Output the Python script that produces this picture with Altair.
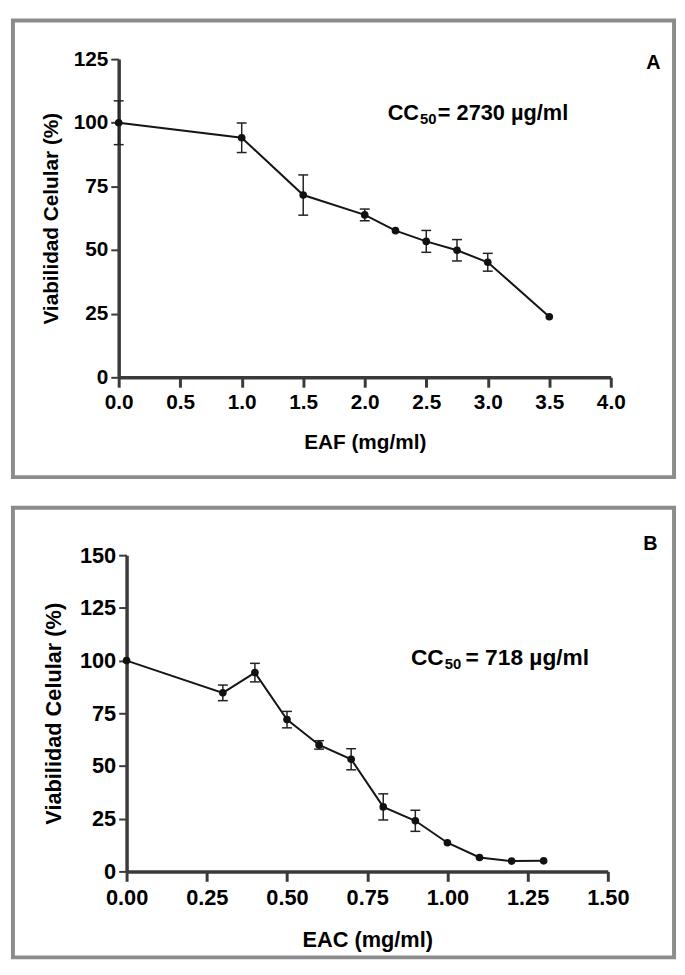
import altair as alt
import pandas as pd

# ---------------- data ----------------
A_dose = [0.0, 1.0, 1.5, 2.0, 2.25, 2.5, 2.75, 3.0, 3.5]
A_viab = [100.0, 94.1, 71.6, 63.8, 57.6, 53.4, 49.9, 45.2, 23.8]
A_err = [8.6, 5.8, 7.9, 2.3, 0.0, 4.3, 4.2, 3.5, 0.0]

B_dose = [0.0, 0.3, 0.4, 0.5, 0.6, 0.7, 0.8, 0.9, 1.0, 1.1, 1.2, 1.3]
B_viab = [100.0, 84.7, 94.3, 72.0, 60.0, 53.2, 30.6, 24.0, 13.6, 6.6, 4.9, 5.0]
B_err = [0.0, 3.7, 4.4, 3.9, 2.0, 5.0, 6.2, 5.0, 0.0, 0.0, 0.0, 0.0]

A_xticks = [0.0, 0.5, 1.0, 1.5, 2.0, 2.5, 3.0, 3.5, 4.0]
A_yticks = [0, 25, 50, 75, 100, 125]
B_xticks = [0.0, 0.25, 0.5, 0.75, 1.0, 1.25, 1.5]
B_yticks = [0, 25, 50, 75, 100, 125, 150]

A_xtitle = "EAF (mg/ml)"
B_xtitle = "EAC (mg/ml)"
Y_title = "Viabilidad Celular (%)"
A_letter = "A"
B_letter = "B"
A_cc = "= 2730 µg/ml"
B_cc = "= 718 µg/ml"

FONT = "Liberation Sans"
AXC = "#3a3a3a"
BORDER = "#8c8c8c"


def panel(dose, viab, err, xticks, yticks, xmax, ymax, w, h, xrange, yoffset,
          xfmt, xtitle, letter, cc_text, fs, ypad, xlabpad, xtitlepad,
          border, letter_pos, cc_pos):
    df = pd.DataFrame({"dose": dose, "viab": viab, "err": err})
    df["lo"] = df["viab"] - df["err"]
    df["hi"] = df["viab"] + df["err"]
    eb = df[df["err"] > 0]
    caps = pd.DataFrame({
        "dose": list(eb["dose"]) * 2,
        "viab": list(eb["lo"]) + list(eb["hi"]),
    })

    xscale = alt.Scale(domain=[0, xmax], nice=False, zero=False, **({"range": xrange} if xrange else {}))
    yscale = alt.Scale(domain=[0, ymax], nice=False)
    xaxis = alt.Axis(values=xticks, format=xfmt, title=xtitle, grid=False,
                     domainColor=AXC, domainWidth=3.5, tickColor=AXC, tickWidth=3,
                     tickSize=10, labelPadding=xlabpad, labelFont=FONT,
                     labelFontWeight="bold", labelFontSize=fs, labelColor="black",
                     labelFlush=False, labelOverlap=False, titleFont=FONT,
                     titleFontSize=fs, titleFontWeight="bold", titleColor="black",
                     titlePadding=xtitlepad)
    yaxis = alt.Axis(values=yticks, format="d", title=Y_title, grid=False,
                     domainColor=AXC, domainWidth=3.5, tickColor=AXC, tickWidth=2,
                     tickSize=8, labelPadding=3, labelFont=FONT,
                     labelFontWeight="bold", labelFontSize=fs, labelColor="black",
                     labelFlush=False, labelOverlap=False, titleFont=FONT,
                     titleFontSize=fs, titleFontWeight="bold", titleColor="black",
                     titlePadding=ypad, offset=yoffset)

    def X(field):
        return alt.X(f"{field}:Q", scale=xscale, axis=xaxis)

    def Y(field):
        return alt.Y(f"{field}:Q", scale=yscale, axis=yaxis)

    one = pd.DataFrame({"k": [0]})
    frame = alt.Chart(one).mark_rect(filled=False, stroke=BORDER, strokeWidth=4).encode(
        x=alt.value(border[0]), x2=alt.value(border[1]),
        y=alt.value(border[2]), y2=alt.value(border[3]))

    line = alt.Chart(df).mark_line(color="#151515", strokeWidth=2).encode(x=X("dose"), y=Y("viab"))
    pts = alt.Chart(df).mark_point(filled=True, color="#111111", size=60, opacity=1).encode(
        x=X("dose"), y=Y("viab"))
    bars = alt.Chart(eb).mark_rule(color="#222222", strokeWidth=1.5).encode(
        x=X("dose"), y=Y("lo"), y2="hi:Q")
    capm = alt.Chart(caps).mark_tick(orient="horizontal", size=10, thickness=1.5,
                                     color="#222222", opacity=1).encode(x=X("dose"), y=Y("viab"))

    cc_right, rest_left, base = cc_pos
    let = alt.Chart(one).mark_text(text=letter, font=FONT, fontWeight="bold", fontSize=20,
                                   align="center", baseline="alphabetic", color="black").encode(
        x=alt.value(letter_pos[0]), y=alt.value(letter_pos[1]))
    cc1 = alt.Chart(one).mark_text(text="CC", font=FONT, fontWeight="bold", fontSize=fs + 1,
                                   align="right", baseline="alphabetic", color="black").encode(
        x=alt.value(cc_right), y=alt.value(base))
    cc2 = alt.Chart(one).mark_text(text="50", font=FONT, fontWeight="bold", fontSize=15,
                                   align="left", baseline="alphabetic", color="black").encode(
        x=alt.value(cc_right + 1), y=alt.value(base + 4))
    cc3 = alt.Chart(one).mark_text(text=cc_text, font=FONT, fontWeight="bold", fontSize=fs + 1,
                                   align="left", baseline="alphabetic", color="black").encode(
        x=alt.value(rest_left), y=alt.value(base))

    return alt.layer(frame, line, bars, capm, pts, let, cc1, cc2, cc3).properties(width=w, height=h)


panelA = panel(A_dose, A_viab, A_err, A_xticks, A_yticks, 4.0, 125, 498, 322, None, 0,
               ".1f", A_xtitle, A_letter, A_cc, 21, 12, 5, 19,
               (-107, 562, -39, 423), (541, 10), (304, 323, 62))
panelB = panel(B_dose, B_viab, B_err, B_xticks, B_yticks, 1.5, 150, 495, 320, [8, 495], -8,
               ".2f", B_xtitle, B_letter, B_cc, 22, 14, 7, 21,
               (-107, 562, -48, 407), (538, -5), (329, 351, 111))

chart = alt.vconcat(panelA, panelB, spacing=25).properties(
    padding={"left": 2, "top": 4, "right": 0, "bottom": 0},
    background="white",
).configure_view(stroke="transparent")

chart.save("out.html", embed_options={"renderer": "svg", "actions": False})
